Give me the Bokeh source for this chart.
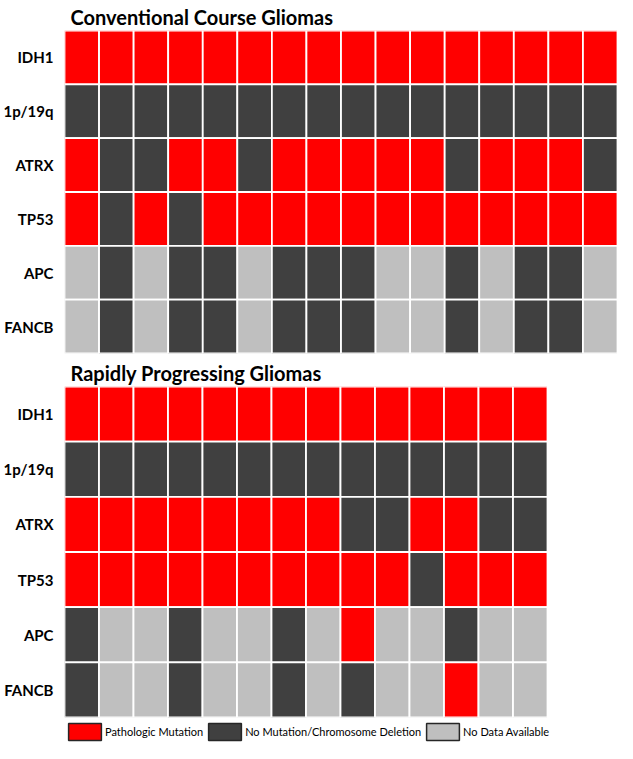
from bokeh.plotting import figure
from bokeh.models import FactorRange, ColumnDataSource, Legend, LegendItem, Range1d
from bokeh.layouts import column
from bokeh.embed import file_html
from bokeh.resources import INLINE

genes = ["IDH1", "1p/19q", "ATRX", "TP53", "APC", "FANCB"]
status_labels = ["Pathologic Mutation", "No Mutation/Chromosome Deletion", "No Data Available"]
status_colors = {"M": "#FF0000", "N": "#404040", "X": "#BFBFBF"}
status_codes = ["M", "N", "X"]

# Conventional course gliomas (16 patients)
conv_IDH1  = list("MMMMMMMMMMMMMMMM")
conv_1p19q = list("NNNNNNNNNNNNNNNN")
conv_ATRX  = list("MNNMMNMMMMMNMMMN")
conv_TP53  = list("MNMNMMMMMMMMMMMM")
conv_APC   = list("XNXNNXNNNXXNXNNX")
conv_FANCB = list("XNXNNXNNNXXNXNNX")

# Rapidly progressing gliomas (14 patients)
rapid_IDH1  = list("MMMMMMMMMMMMMM")
rapid_1p19q = list("NNNNNNNNNNNNNN")
rapid_ATRX  = list("MMMMMMMMNNMMNN")
rapid_TP53  = list("MMMMMMMMMMNMMM")
rapid_APC   = list("NXXNXXNXMXXNXX")
rapid_FANCB = list("NXXNXXNXNXXMXX")

conv_rows = [conv_IDH1, conv_1p19q, conv_ATRX, conv_TP53, conv_APC, conv_FANCB]
rapid_rows = [rapid_IDH1, rapid_1p19q, rapid_ATRX, rapid_TP53, rapid_APC, rapid_FANCB]

FONT = "Lato"


def panel(title, prefix, rows, width, height, top, bottom):
    n = len(rows[0])
    samples = [f"{prefix}{i + 1}" for i in range(n)]
    xs, ys, cs = [], [], []
    for g, row in zip(genes, rows):
        for s, code in zip(samples, row):
            xs.append(s)
            ys.append(g)
            cs.append(status_colors[code])
    src = ColumnDataSource(dict(sample=xs, gene=ys, color=cs))
    p = figure(width=width, height=height,
               x_range=FactorRange(*samples),
               y_range=FactorRange(*reversed(genes)),
               output_backend="svg", toolbar_location=None,
               min_border_left=58, min_border_right=0,
               min_border_top=top, min_border_bottom=bottom,
               title=title)
    p.rect(x="sample", y="gene", width=1, height=1, fill_color="color",
           line_color="white", line_width=1.8, source=src)
    p.xaxis.visible = False
    p.grid.visible = False
    p.outline_line_color = None
    ax = p.yaxis[0]
    ax.axis_line_color = None
    ax.major_tick_line_color = None
    ax.minor_tick_line_color = None
    ax.major_label_text_font = FONT
    ax.major_label_text_font_size = "15px"
    ax.major_label_text_font_style = "bold"
    ax.major_label_text_color = "#000000"
    ax.major_label_standoff = 5
    p.title.text_font = FONT
    p.title.text_font_size = "20px"
    p.title.text_font_style = "bold"
    p.title.text_color = "#000000"
    p.title.align = "left"
    p.title.offset = 6
    p.title.standoff = 4
    p.background_fill_color = "white"
    p.border_fill_color = "white"
    return p


pA = panel("Conventional Course Gliomas", "C", conv_rows, 617, 356, 21, 3)
pB = panel("Rapidly Progressing Gliomas", "R", rapid_rows, 58 + 489, 364, 30, 3)

pC = figure(width=617, height=23, x_range=Range1d(0, 1), y_range=Range1d(0, 1),
            output_backend="svg", toolbar_location=None,
            min_border_left=0, min_border_right=0, min_border_top=0, min_border_bottom=0)
pC.xaxis.visible = False
pC.yaxis.visible = False
pC.grid.visible = False
pC.outline_line_color = None
items = []
for code, lab in zip(status_codes, status_labels):
    # legend proxy: one rect placed outside the visible range
    r = pC.rect(x=[5], y=[5], width=1, height=1, fill_color=status_colors[code],
                line_color="#262626", line_width=1.5)
    items.append(LegendItem(label=lab, renderers=[r]))
leg = Legend(items=items, orientation="horizontal", location=(0, 1),
             glyph_width=41, glyph_height=21, label_standoff=0, spacing=1,
             padding=0, margin=0, border_line_color=None, background_fill_alpha=0,
             label_text_font=FONT, label_text_font_size="11px", label_text_color="#000000")
pC.add_layout(leg)

layout = column(pA, pB, pC)
open("out.html", "w").write(file_html(layout, INLINE))
